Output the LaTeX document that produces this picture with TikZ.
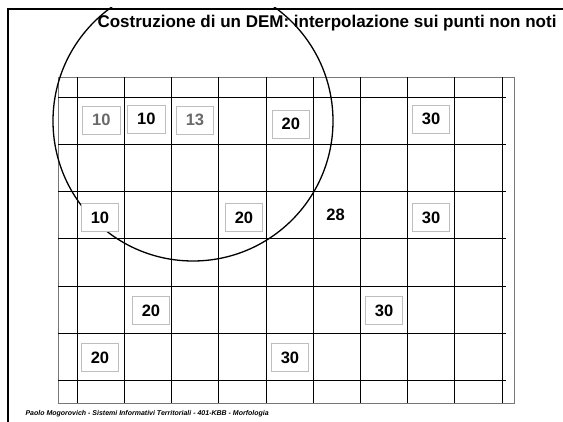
\documentclass[tikz,border=0pt]{standalone}
\usepackage{fontspec}
\setmainfont{Liberation Sans}
\usepackage{tikz}
\usetikzlibrary{positioning}

\definecolor{boxgray}{RGB}{190,190,190}
\definecolor{framegray}{RGB}{120,120,120}
\definecolor{numgray}{RGB}{105,105,105}

\begin{document}
\begin{tikzpicture}[
  x=1pt, y=-1pt,
  gridline/.style = {black, line width=1.1pt},
  val/.style      = {draw=boxgray, fill=white, line width=0.8pt, minimum width=37.5pt,
                     minimum height=28.5pt, inner sep=0pt,
                     font=\fontsize{16.5}{16.5}\selectfont\bfseries},
  oldval/.style   = {val, text=numgray},
]
  \useasboundingbox (0,0) rectangle (563,422);

  % slide frame
  \draw[line width=2pt] (8,422) -- (8,9) -- (563,9);

  \node[anchor=base, font=\fontsize{17}{19}\selectfont\bfseries]
    (title) at (327,27.5) {Costruzione di un DEM: interpolazione sui punti non noti};

  % raster grid
  \draw[framegray, line width=1pt] (58.3,77.3) rectangle (514.3,403.3);
  \foreach \gx in {0,...,9}
    \draw[gridline] (77.3+47.2*\gx,77.3) -- (77.3+47.2*\gx,403.3);
  \foreach \gy in {0,...,6}
    \draw[gridline] (58.3,97.3+47.2*\gy) -- (506,97.3+47.2*\gy);

  % search neighbourhood
  \begin{scope}
    \clip (0,8) rectangle (563,422);
    \draw[line width=1.3pt] (193,121) circle (140pt);
  \end{scope}

  % known points
  \node[oldval] (p1a) at (101.3,120.2) {10};
  \node[val]    (p1b) at (146.3,119.2) {10};
  \node[oldval] (p1c) at (195.0,120.2) {13};
  \node[val]    (p1d) at (290.8,124.2) {20};
  \node[val]    (p1e) at (431.0,119.2) {30};

  \node[val] (p3a) at (100.0,217.5) {10};
  \node[val] (p3b) at (244.0,217.5) {20};
  \node[font=\fontsize{16.5}{16.5}\selectfont\bfseries] (p3c) at (335.5,215.0) {28};
  \node[val] (p3d) at (431.0,217.5) {30};

  \node[val] (p5a) at (151.0,310.5) {20};
  \node[val] (p5b) at (384.0,310.5) {30};

  \node[val] (p6a) at (100.0,357.5) {20};
  \node[val] (p6b) at (290.0,357.5) {30};

  \node[anchor=base west, font=\fontsize{7}{8}\selectfont\bfseries\itshape]
    (footer) at (22,416) {Paolo Mogorovich - Sistemi Informativi Territoriali - 401-KBB - Morfologia};
\end{tikzpicture}
\end{document}
